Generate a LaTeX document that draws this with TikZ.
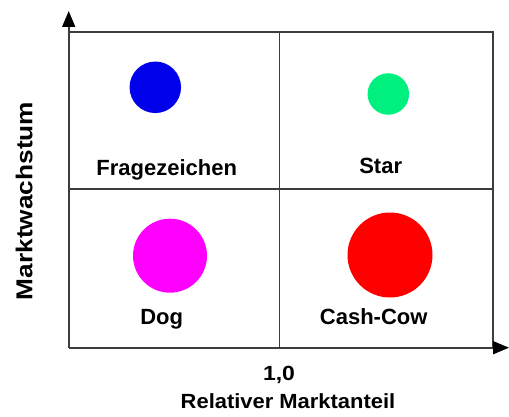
\documentclass[tikz,border=0pt]{standalone}
\usepackage{fontspec}
\setmainfont{Liberation Sans}
\usetikzlibrary{arrows.meta}
\definecolor{gridline}{RGB}{60,60,60}
\definecolor{qblue}{RGB}{0,0,235}
\definecolor{qgreen}{RGB}{0,240,128}
\definecolor{qmagenta}{RGB}{255,0,255}
\definecolor{qred}{RGB}{255,0,0}
\tikzset{
  gridln/.style={draw=gridline, line width=1.6pt},
  axisln/.style={draw=gridline, line width=1.6pt, -{Triangle[length=16pt,width=13pt,fill=black,color=black]}},
  quadlabel/.style={font=\bfseries\fontsize{22}{26}\selectfont, inner sep=0pt, anchor=base},
  axislabel/.style={font=\bfseries\fontsize{20.5}{24}\selectfont, inner sep=0pt, anchor=base},
  bubble/.style={circle, inner sep=0pt, draw=none},
}
\begin{document}
\begin{tikzpicture}[x=1pt,y=-1pt]
\useasboundingbox (0,0) rectangle (509,417);
% coordinates
\coordinate (O) at (68.7,347.7);
\coordinate (ytip) at (68.7,11);
\coordinate (xtip) at (509,347.7);
\coordinate (TL) at (68.7,32);
\coordinate (TR) at (493,32);
\coordinate (BR) at (493,347.7);
\coordinate (TM) at (279.3,32);
\coordinate (BM) at (279.3,347.7);
\coordinate (ML) at (68.7,189);
\coordinate (MR) at (493,189);
% grid
\draw[gridln] (TL) -- (TR) -- (BR);
\draw[gridln] (TM) -- (BM);
\draw[gridln] (ML) -- (MR);
% axes
\draw[axisln] (O) -- (ytip);
\draw[axisln] (O) -- (xtip);
% bubbles
\node[bubble, fill=qblue, minimum size=51.5pt] (fz) at (155.3,87.3) {};
\node[bubble, fill=qgreen, minimum size=41.5pt] (st) at (388.3,94) {};
\node[bubble, fill=qmagenta, minimum size=74pt] (dg) at (170,255.7) {};
\node[bubble, fill=qred, minimum size=85pt] (cc) at (390,255) {};
% quadrant labels
\node[quadlabel] (lfz) at (166.7,176) {Fragezeichen};
\node[quadlabel] (lst) at (380.7,173.5) {Star};
\node[quadlabel] (ldg) at (161.7,324.3) {Dog};
\node[quadlabel] (lcc) at (373.7,324.3) {Cash-Cow};
% axis labels
\node[axislabel] (one) at (279,380.5) {\scalebox{1.12}[1]{1,0}};
\node[axislabel] (xl) at (288,408) {\scalebox{1.07}[1]{Relativer Marktanteil}};
\node[axislabel, font=\bfseries\fontsize{23}{26}\selectfont, rotate=90] (yl) at (32.3,201) {\scalebox{1.14}[1]{Marktwachstum}};
\end{tikzpicture}
\end{document}
